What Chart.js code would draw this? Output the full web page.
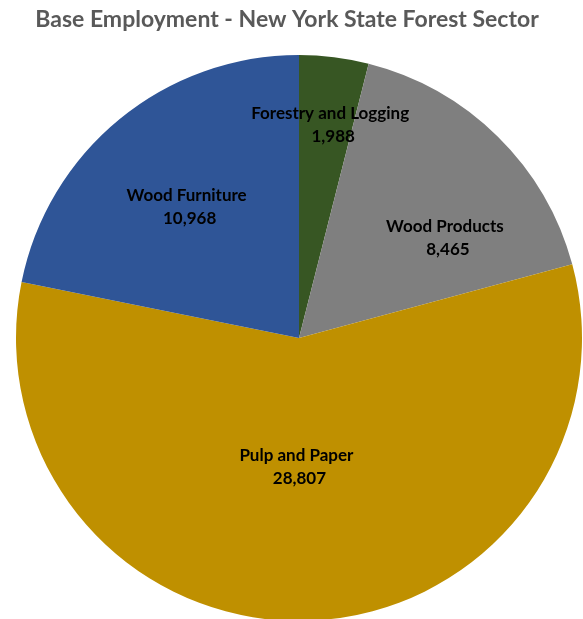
<!DOCTYPE html>
<html>
<head>
<meta charset="utf-8">
<script src="https://cdn.jsdelivr.net/npm/chart.js@4"></script>
<style>
  html, body { margin: 0; padding: 0; background: #ffffff; overflow: hidden; }
  #wrap { position: relative; width: 583px; height: 622px; }
</style>
</head>
<body>
<div id="wrap"><canvas id="chart"></canvas></div>
<script>
// Base employment by forest-sector industry, New York State
const chartTitle = 'Base Employment - New York State Forest Sector';
const categories = ['Forestry and Logging', 'Wood Products', 'Pulp and Paper', 'Wood Furniture'];
const employment = [1988, 8465, 28807, 10968];
const sliceColors = ['#375623', '#7f7f7f', '#bf9000', '#2f5597'];

// Where each label sits: fraction of the radius from the centre, and angular shift (degrees) from the slice middle
const labelRadius = [0.76, 0.625, 0.455, 0.61];
const labelShift = [1.2, 11, 3, -1.3];

const labelPlugin = {
  id: 'sliceLabels',
  afterDatasetsDraw(chart) {
    const ctx = chart.ctx;
    const meta = chart.getDatasetMeta(0);
    ctx.save();
    ctx.font = 'bold 17px Lato';
    ctx.fillStyle = '#000000';
    ctx.textAlign = 'center';
    ctx.textBaseline = 'middle';
    meta.data.forEach((arc, i) => {
      const mid = (arc.startAngle + arc.endAngle) / 2 + labelShift[i] * Math.PI / 180;
      const r = arc.outerRadius * labelRadius[i];
      const x = arc.x + Math.cos(mid) * r;
      const y = arc.y + Math.sin(mid) * r;
      const value = employment[i].toLocaleString('en-US');
      ctx.fillText(categories[i], x, y - 11.5);
      ctx.fillText(value, x + 3, y + 11.5);
    });
    ctx.restore();
  },
  afterDraw(chart) {
    const ctx = chart.ctx;
    ctx.save();
    ctx.font = 'bold 23px Lato';
    ctx.fillStyle = '#595959';
    ctx.textAlign = 'center';
    ctx.textBaseline = 'middle';
    ctx.fillText(chartTitle, 287, 20);
    ctx.restore();
  }
};

new Chart(document.getElementById('chart'), {
  type: 'pie',
  data: {
    labels: categories,
    datasets: [{
      data: employment,
      backgroundColor: sliceColors,
      borderWidth: 0
    }]
  },
  options: {
    responsive: true,
    maintainAspectRatio: false,
    animation: false,
    layout: { padding: { top: 54, left: 16, right: 1, bottom: 0 } },
    plugins: {
      legend: { display: false },
      tooltip: { enabled: false },
      title: { display: false }
    }
  },
  plugins: [labelPlugin]
});
</script>
</body>
</html>
